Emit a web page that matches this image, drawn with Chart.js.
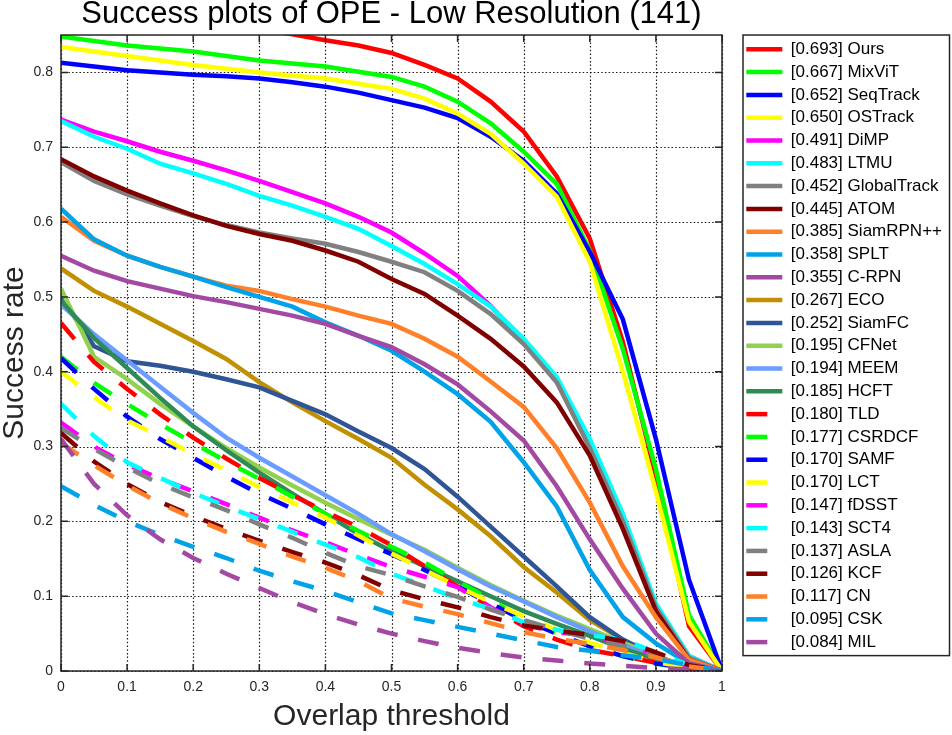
<!DOCTYPE html>
<html>
<head>
<meta charset="utf-8">
<script src="https://cdn.jsdelivr.net/npm/chart.js@4.4.1/dist/chart.umd.min.js"></script>
<style>
  html, body { margin: 0; padding: 0; background: #fff; }
  #wrap { width: 952px; height: 735px; }
</style>
</head>
<body>
<div id="wrap"><canvas id="myChart" width="952" height="735"></canvas></div>
<script>
// overlap thresholds (x axis)
const thresholds = [0, 0.05, 0.1, 0.15, 0.2, 0.25, 0.3, 0.35, 0.4, 0.45, 0.5,
                    0.55, 0.6, 0.65, 0.7, 0.75, 0.8, 0.85, 0.9, 0.95, 1];
const xTicks = [0, 0.1, 0.2, 0.3, 0.4, 0.5, 0.6, 0.7, 0.8, 0.9, 1];
const yTicks = [0, 0.1, 0.2, 0.3, 0.4, 0.5, 0.6, 0.7, 0.8];

const trackers = ["Ours", "MixViT", "SeqTrack", "OSTrack", "DiMP", "LTMU", "GlobalTrack", "ATOM",
                  "SiamRPN++", "SPLT", "C-RPN", "ECO", "SiamFC", "CFNet", "MEEM", "HCFT",
                  "TLD", "CSRDCF", "SAMF", "LCT", "fDSST", "SCT4", "ASLA", "KCF", "CN", "CSK", "MIL"];
const aucScores = [0.693, 0.667, 0.652, 0.650, 0.491, 0.483, 0.452, 0.445,
                   0.385, 0.358, 0.355, 0.267, 0.252, 0.195, 0.194, 0.185,
                   0.180, 0.177, 0.170, 0.170, 0.147, 0.143, 0.137, 0.126, 0.117, 0.095, 0.084];

// success rates, one array per tracker
const ours      = [0.890, 0.885, 0.880, 0.875, 0.870, 0.865, 0.858, 0.851, 0.843, 0.836, 0.826, 0.810, 0.792, 0.761, 0.721, 0.661, 0.578, 0.440, 0.260, 0.060, 0];
const mixvit    = [0.848, 0.842, 0.836, 0.832, 0.828, 0.822, 0.816, 0.812, 0.808, 0.801, 0.794, 0.781, 0.761, 0.732, 0.694, 0.651, 0.562, 0.430, 0.270, 0.075, 0];
const seqtrack  = [0.813, 0.808, 0.803, 0.800, 0.797, 0.795, 0.792, 0.787, 0.781, 0.773, 0.763, 0.753, 0.739, 0.714, 0.682, 0.638, 0.560, 0.470, 0.310, 0.122, 0];
const ostrack   = [0.834, 0.828, 0.822, 0.816, 0.810, 0.805, 0.800, 0.796, 0.792, 0.785, 0.778, 0.765, 0.745, 0.718, 0.678, 0.634, 0.547, 0.400, 0.240, 0.066, 0];
const dimp      = [0.737, 0.721, 0.708, 0.694, 0.682, 0.669, 0.655, 0.640, 0.625, 0.607, 0.586, 0.558, 0.528, 0.488, 0.440, 0.386, 0.305, 0.200, 0.085, 0.020, 0];
const ltmu      = [0.735, 0.714, 0.698, 0.678, 0.665, 0.651, 0.635, 0.622, 0.607, 0.591, 0.568, 0.544, 0.517, 0.487, 0.444, 0.393, 0.310, 0.210, 0.090, 0.020, 0];
const globalTr  = [0.680, 0.655, 0.637, 0.622, 0.608, 0.596, 0.586, 0.578, 0.571, 0.560, 0.547, 0.533, 0.508, 0.477, 0.437, 0.386, 0.298, 0.200, 0.085, 0.018, 0];
const atom      = [0.684, 0.661, 0.642, 0.625, 0.609, 0.595, 0.584, 0.575, 0.562, 0.547, 0.524, 0.504, 0.475, 0.444, 0.407, 0.359, 0.288, 0.190, 0.080, 0.015, 0];
const siamrpnpp = [0.607, 0.575, 0.555, 0.540, 0.527, 0.515, 0.508, 0.497, 0.487, 0.475, 0.464, 0.444, 0.420, 0.387, 0.353, 0.298, 0.225, 0.140, 0.072, 0.015, 0];
const splt      = [0.618, 0.577, 0.555, 0.540, 0.527, 0.513, 0.500, 0.487, 0.466, 0.448, 0.428, 0.400, 0.370, 0.333, 0.279, 0.220, 0.135, 0.072, 0.037, 0.010, 0];
const crpn      = [0.555, 0.535, 0.521, 0.511, 0.501, 0.493, 0.484, 0.475, 0.464, 0.448, 0.433, 0.410, 0.383, 0.347, 0.308, 0.247, 0.176, 0.110, 0.050, 0.010, 0];
const eco       = [0.538, 0.508, 0.487, 0.464, 0.441, 0.417, 0.386, 0.359, 0.334, 0.310, 0.285, 0.249, 0.216, 0.180, 0.139, 0.105, 0.068, 0.042, 0.019, 0.005, 0];
const siamfc    = [0.500, 0.434, 0.414, 0.408, 0.400, 0.390, 0.379, 0.361, 0.343, 0.320, 0.298, 0.270, 0.233, 0.193, 0.153, 0.113, 0.072, 0.042, 0.020, 0.005, 0];
const cfnet     = [0.511, 0.420, 0.390, 0.357, 0.327, 0.298, 0.272, 0.248, 0.225, 0.203, 0.182, 0.162, 0.138, 0.115, 0.094, 0.074, 0.056, 0.038, 0.020, 0.005, 0];
const meem      = [0.490, 0.450, 0.415, 0.380, 0.345, 0.312, 0.285, 0.260, 0.235, 0.210, 0.183, 0.160, 0.136, 0.113, 0.093, 0.072, 0.053, 0.035, 0.018, 0.005, 0];
const hcft      = [0.495, 0.445, 0.405, 0.365, 0.327, 0.295, 0.265, 0.237, 0.210, 0.183, 0.160, 0.140, 0.120, 0.100, 0.080, 0.063, 0.047, 0.030, 0.016, 0.004, 0];
const tld       = [0.465, 0.413, 0.377, 0.343, 0.312, 0.284, 0.258, 0.235, 0.213, 0.192, 0.168, 0.140, 0.113, 0.085, 0.060, 0.042, 0.028, 0.020, 0.011, 0.004, 0];
const csrdcf    = [0.420, 0.385, 0.357, 0.330, 0.305, 0.280, 0.257, 0.233, 0.210, 0.187, 0.166, 0.145, 0.120, 0.095, 0.070, 0.050, 0.033, 0.020, 0.010, 0.003, 0];
const samf      = [0.418, 0.377, 0.340, 0.310, 0.285, 0.260, 0.237, 0.217, 0.196, 0.176, 0.156, 0.135, 0.113, 0.090, 0.068, 0.050, 0.033, 0.020, 0.010, 0.004, 0];
const lct       = [0.400, 0.366, 0.335, 0.313, 0.290, 0.268, 0.246, 0.225, 0.205, 0.181, 0.157, 0.135, 0.113, 0.092, 0.073, 0.055, 0.038, 0.024, 0.012, 0.004, 0];
const fdsst     = [0.332, 0.300, 0.276, 0.257, 0.240, 0.223, 0.205, 0.188, 0.172, 0.155, 0.139, 0.126, 0.112, 0.085, 0.062, 0.052, 0.047, 0.038, 0.022, 0.006, 0];
const sct4      = [0.357, 0.314, 0.279, 0.258, 0.238, 0.220, 0.203, 0.186, 0.169, 0.152, 0.130, 0.114, 0.097, 0.083, 0.065, 0.055, 0.048, 0.042, 0.025, 0.008, 0];
const asla      = [0.325, 0.297, 0.272, 0.250, 0.232, 0.215, 0.196, 0.178, 0.158, 0.140, 0.128, 0.113, 0.099, 0.082, 0.068, 0.055, 0.043, 0.034, 0.020, 0.006, 0];
const kcf       = [0.318, 0.280, 0.250, 0.226, 0.207, 0.190, 0.174, 0.159, 0.145, 0.128, 0.108, 0.096, 0.085, 0.072, 0.061, 0.054, 0.048, 0.040, 0.025, 0.008, 0];
const cn        = [0.305, 0.275, 0.248, 0.224, 0.204, 0.186, 0.170, 0.153, 0.138, 0.120, 0.097, 0.086, 0.076, 0.064, 0.052, 0.043, 0.036, 0.028, 0.018, 0.006, 0];
const csk       = [0.247, 0.222, 0.200, 0.182, 0.166, 0.151, 0.134, 0.120, 0.107, 0.092, 0.077, 0.068, 0.059, 0.050, 0.041, 0.032, 0.027, 0.021, 0.016, 0.008, 0];
const mil       = [0.310, 0.250, 0.208, 0.176, 0.151, 0.130, 0.111, 0.092, 0.076, 0.062, 0.050, 0.040, 0.031, 0.024, 0.018, 0.014, 0.010, 0.007, 0.004, 0.002, 0];

const successRates = [ours, mixvit, seqtrack, ostrack, dimp, ltmu, globalTr, atom,
                      siamrpnpp, splt, crpn, eco, siamfc, cfnet, meem, hcft,
                      tld, csrdcf, samf, lct, fdsst, sct4, asla, kcf, cn, csk, mil];

const palette = ["#ff0000", "#00ff00", "#0000ff", "#ffff00", "#ff00ff", "#00ffff", "#808080", "#800000",
                 "#ff8028", "#00a2e8", "#a349a4", "#c09000", "#2f5597", "#92d050", "#6b9cff", "#2e8b57",
                 "#ff0000", "#00ff00", "#0000ff", "#ffff00", "#ff00ff", "#00ffff", "#808080", "#800000",
                 "#ff8028", "#00a2e8", "#a349a4"];
const firstDashed = 16;

const FONT = '"Liberation Sans", Arial, Helvetica, sans-serif';
const AXIS_COLOR = "#262626";
const LINE_W = 4.5;
const DASH = [21, 21];

const datasets = trackers.map((name, i) => ({
    label: `[${aucScores[i].toFixed(3)}] ${name}`,
    data: successRates[i].map((v, j) => ({ x: thresholds[j], y: v })),
    borderColor: palette[i],
    backgroundColor: palette[i],
    borderWidth: LINE_W,
    borderDash: i >= firstDashed ? DASH : [],
    borderCapStyle: "butt",
    pointRadius: 0,
    fill: false,
    order: -i   // later trackers are drawn on top, like the original plot
}));

// dotted grid, box and inward ticks in the MATLAB style
const matlabFrame = {
    id: "matlabFrame",
    beforeDatasetsDraw(chart) {
        const { ctx, chartArea: a, scales: { x, y } } = chart;
        ctx.save();
        ctx.strokeStyle = "rgba(0,0,0,0.9)";
        ctx.lineWidth = 1.2;
        ctx.setLineDash([1.5, 2.2]);
        xTicks.forEach(t => {
            const px = Math.round(x.getPixelForValue(t)) + 0.5;
            ctx.beginPath(); ctx.moveTo(px, a.top); ctx.lineTo(px, a.bottom); ctx.stroke();
        });
        yTicks.forEach(t => {
            const py = Math.round(y.getPixelForValue(t)) + 0.5;
            ctx.beginPath(); ctx.moveTo(a.left, py); ctx.lineTo(a.right, py); ctx.stroke();
        });
        ctx.restore();
    },
    afterDatasetsDraw(chart) {
        const { ctx, chartArea: a, scales: { x, y } } = chart;
        const tl = 7;
        ctx.save();
        ctx.strokeStyle = AXIS_COLOR;
        ctx.lineWidth = 1.5;
        ctx.setLineDash([]);
        ctx.strokeRect(a.left, a.top, a.right - a.left, a.bottom - a.top);
        ctx.beginPath();
        xTicks.forEach(t => {
            const px = x.getPixelForValue(t);
            ctx.moveTo(px, a.bottom); ctx.lineTo(px, a.bottom - tl);
            ctx.moveTo(px, a.top); ctx.lineTo(px, a.top + tl);
        });
        yTicks.forEach(t => {
            const py = y.getPixelForValue(t);
            ctx.moveTo(a.left, py); ctx.lineTo(a.left + tl, py);
            ctx.moveTo(a.right, py); ctx.lineTo(a.right - tl, py);
        });
        ctx.stroke();
        ctx.restore();
    },
    afterDraw(chart) {
        const lg = chart.legend;
        if (!lg || !lg.legendHitBoxes.length) return;
        const boxes = lg.legendHitBoxes;
        const last = boxes[boxes.length - 1];
        const { ctx } = chart;
        ctx.save();
        ctx.strokeStyle = AXIS_COLOR;
        ctx.lineWidth = 1.5;
        ctx.strokeRect(lg.left + 2.5, lg.top, lg.right - lg.left - 5, last.top + last.height + 5 - lg.top);
        ctx.restore();
    }
};

const tickFmt = v => (v === 0 || v === 1) ? String(v) : v.toFixed(1);

new Chart(document.getElementById("myChart"), {
    type: "line",
    data: { datasets },
    options: {
        responsive: false,
        animation: false,
        devicePixelRatio: 1,
        layout: { padding: { left: 0, right: 0, top: 0, bottom: 0 } },
        elements: { line: { tension: 0 }, point: { radius: 0 } },
        plugins: {
            title: {
                display: true,
                text: "Success plots of OPE - Low Resolution (141)",
                fullSize: false,
                color: "#000",
                font: { family: FONT, size: 31, weight: "normal", lineHeight: 0.82 },
                padding: { top: 2, bottom: 7.6 }
            },
            legend: {
                position: "right",
                align: "start",
                fullSize: false,
                maxWidth: 260,
                labels: {
                    usePointStyle: true,
                    pointStyle: "line",
                    pointStyleWidth: 36,
                    boxHeight: 17,
                    padding: 5.8,
                    color: "#000",
                    font: { family: FONT, size: 17 },
                    generateLabels: c => c.data.datasets.map((ds, i) => ({
                        text: ds.label,
                        strokeStyle: ds.borderColor,
                        fillStyle: ds.borderColor,
                        fontColor: "#000",
                        lineWidth: LINE_W,
                        lineCap: "butt",
                        lineDash: ds.borderDash,
                        lineDashOffset: 0,
                        pointStyle: "line",
                        hidden: false,
                        datasetIndex: i
                    }))
                }
            },
            tooltip: { enabled: false }
        },
        scales: {
            x: {
                type: "linear",
                min: 0,
                max: 1,
                afterFit: s => { s.height = 64; },
                afterBuildTicks: s => { s.ticks = xTicks.map(v => ({ value: v })); },
                ticks: {
                    padding: 8,
                    color: AXIS_COLOR,
                    font: { family: FONT, size: 14 },
                    maxRotation: 0,
                    autoSkip: false,
                    callback: tickFmt
                },
                grid: { display: false, drawTicks: false },
                border: { display: false },
                title: {
                    display: true,
                    text: "Overlap threshold",
                    color: AXIS_COLOR,
                    font: { family: FONT, size: 30, lineHeight: 1 },
                    padding: { top: 3, bottom: 3 }
                }
            },
            y: {
                type: "linear",
                min: 0,
                max: 0.85,
                afterFit: s => { s.width = 61; },
                afterBuildTicks: s => { s.ticks = yTicks.map(v => ({ value: v })); },
                ticks: {
                    padding: 8,
                    color: AXIS_COLOR,
                    font: { family: FONT, size: 14 },
                    autoSkip: false,
                    callback: tickFmt
                },
                grid: { display: false, drawTicks: false },
                border: { display: false },
                title: {
                    display: true,
                    text: "Success rate",
                    color: AXIS_COLOR,
                    font: { family: FONT, size: 30, lineHeight: 1 },
                    padding: { top: 0, bottom: 0 }
                }
            },
            yRight: {
                type: "linear",
                position: "right",
                min: 0,
                max: 0.85,
                afterFit: s => { s.width = 18.5; },
                ticks: { display: false },
                grid: { display: false, drawTicks: false },
                border: { display: false }
            }
        }
    },
    plugins: [matlabFrame]
});
</script>
</body>
</html>
